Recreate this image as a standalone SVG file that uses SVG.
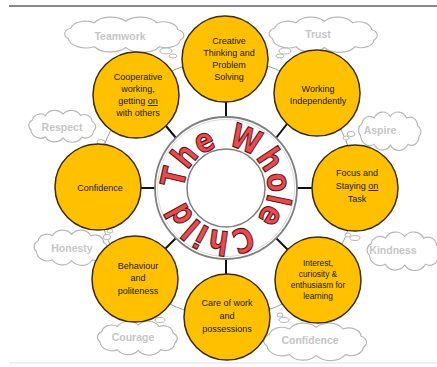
<svg xmlns="http://www.w3.org/2000/svg" xmlns:xlink="http://www.w3.org/1999/xlink" width="437" height="367" viewBox="0 0 437 367">
<style>
.cloud{fill:#fff;stroke:#b8b8b8;stroke-width:1.2}
.bub{fill:#fff;stroke:#b8b8b8;stroke-width:1}
.ct{font-family:"Liberation Sans",Arial,sans-serif;font-weight:bold;font-size:10.5px;fill:#c6c6c6;text-anchor:middle}
.node{fill:#FFC000;stroke:#3d2b00;stroke-width:1.5}
.nt{font-family:"Liberation Sans",Arial,sans-serif;font-size:9px;fill:#1a1a1a;text-anchor:middle}
.spoke{stroke:#111;stroke-width:2}
.title{font-family:"DejaVu Sans",sans-serif;font-weight:bold;font-size:33px;fill:#e84a50;stroke:#5a1212;stroke-width:1.1}
</style>
<defs>
<path id="cl" vector-effect="non-scaling-stroke" d="M8,26 A8.5,8.5 0 0 1 10,12 A11.6,11.6 0 0 1 28,5 A14.5,14.5 0 0 1 52,3 A14.5,14.5 0 0 1 76,5 A11,11 0 0 1 92,14 A8.5,8.5 0 0 1 94,28 A11,11 0 0 1 78,37 A15.6,15.6 0 0 1 52,38 A14.4,14.4 0 0 1 28,37 A13.7,13.7 0 0 1 8,26 Z"/>
<path id="tp" d="M184,189 A42,42 0 1 1 268,189 A42,42 0 1 1 184,189"/>
</defs>
<rect width="437" height="367" fill="#fff"/>
<line x1="9" y1="6" x2="437" y2="6" stroke="#111" stroke-width="1.2"/>
<line x1="9" y1="363" x2="437" y2="363" stroke="#e2e2e2" stroke-width="1"/>

<circle cx="226" cy="188" r="129" fill="none" stroke="#9c9c9c" stroke-width="1"/>

<g id="cloud-teamwork"><use xlink:href="#cl" class="cloud" transform="translate(58,19) scale(1.3,0.75)"/><ellipse class="bub" cx="166" cy="51" rx="6" ry="3"/><ellipse class="bub" cx="173" cy="56" rx="4" ry="2"/><text class="ct" x="120" y="40">Teamwork</text></g>
<g id="cloud-trust"><use xlink:href="#cl" class="cloud" transform="translate(263,19) scale(1.18,0.75)"/><ellipse class="bub" cx="285" cy="51" rx="6" ry="3"/><ellipse class="bub" cx="280" cy="56" rx="4" ry="2"/><text class="ct" x="318" y="38">Trust</text></g>
<g id="cloud-respect"><use xlink:href="#cl" class="cloud" transform="translate(25,112) scale(0.73,0.68)"/><ellipse class="bub" cx="101" cy="142" rx="4" ry="2.5"/><ellipse class="bub" cx="106" cy="147" rx="3" ry="2"/><text class="ct" x="62" y="131">Respect</text></g>
<g id="cloud-aspire"><use xlink:href="#cl" class="cloud" transform="translate(355,114) scale(0.68,0.82)"/><ellipse class="bub" cx="351" cy="134" rx="4" ry="2.5"/><ellipse class="bub" cx="346" cy="138" rx="3" ry="2"/><text class="ct" x="380" y="134">Aspire</text></g>
<g id="cloud-honesty"><use xlink:href="#cl" class="cloud" transform="translate(30,232) scale(0.8,0.75)"/><ellipse class="bub" cx="107" cy="237" rx="4" ry="2.5"/><ellipse class="bub" cx="110" cy="231" rx="3" ry="2"/><text class="ct" x="72" y="252">Honesty</text></g>
<g id="cloud-kindness"><use xlink:href="#cl" class="cloud" transform="translate(363,234) scale(0.8,0.82)"/><ellipse class="bub" cx="355" cy="238" rx="5" ry="2.5"/><ellipse class="bub" cx="348" cy="235" rx="3" ry="2"/><text class="ct" x="393" y="254">Kindness</text></g>
<g id="cloud-courage"><use xlink:href="#cl" class="cloud" transform="translate(93,323) scale(0.87,0.72)"/><ellipse class="bub" cx="160" cy="320" rx="5" ry="2.5"/><ellipse class="bub" cx="154" cy="316" rx="3" ry="2"/><text class="ct" x="133" y="341">Courage</text></g>
<g id="cloud-confidence"><use xlink:href="#cl" class="cloud" transform="translate(258,325) scale(1.12,0.8)"/><ellipse class="bub" cx="284" cy="320" rx="5" ry="2.5"/><ellipse class="bub" cx="280" cy="315" rx="3" ry="2"/><text class="ct" x="310" y="344">Confidence</text></g>

<g id="connectors">
<line class="spoke" x1="226" y1="117" x2="226" y2="102"/>
<line class="spoke" x1="226" y1="259" x2="226" y2="274"/>
<line class="spoke" x1="155" y1="188" x2="141" y2="188"/>
<line class="spoke" x1="297" y1="188" x2="312" y2="188"/>
<line class="spoke" x1="176" y1="138" x2="166" y2="126"/>
<line class="spoke" x1="276" y1="138" x2="287" y2="124"/>
<line class="spoke" x1="176" y1="238" x2="165" y2="249"/>
<line class="spoke" x1="276" y1="238" x2="288" y2="250"/>
</g>

<g id="node-creative"><circle class="node" cx="225" cy="59" r="43"/><text class="nt"><tspan x="229" y="44">Creative</tspan><tspan x="229" y="56">Thinking and</tspan><tspan x="229" y="68">Problem</tspan><tspan x="229" y="80">Solving</tspan></text></g>
<g id="node-working"><circle class="node" cx="317" cy="93" r="43"/><text class="nt"><tspan x="318" y="92">Working</tspan><tspan x="318" y="104">Independently</tspan></text></g>
<g id="node-focus"><circle class="node" cx="355" cy="188" r="43"/><text class="nt"><tspan x="357" y="176">Focus and</tspan><tspan x="357" y="189">Staying <tspan text-decoration="underline">on</tspan></tspan><tspan x="357" y="202">Task</tspan></text></g>
<g id="node-interest"><circle class="node" cx="318" cy="280" r="43"/><text class="nt" style="font-size:8.3px"><tspan x="318" y="266">Interest,</tspan><tspan x="318" y="277">curiosity &amp;</tspan><tspan x="318" y="288">enthusiasm for</tspan><tspan x="318" y="299">learning</tspan></text></g>
<g id="node-care"><circle class="node" cx="227" cy="317" r="43"/><text class="nt"><tspan x="227" y="306">Care of work</tspan><tspan x="227" y="319">and</tspan><tspan x="227" y="332">possessions</tspan></text></g>
<g id="node-behaviour"><circle class="node" cx="135" cy="279" r="43"/><text class="nt"><tspan x="138" y="269">Behaviour</tspan><tspan x="138" y="281">and</tspan><tspan x="138" y="294">politeness</tspan></text></g>
<g id="node-confidence"><circle class="node" cx="98" cy="187" r="43"/><text class="nt"><tspan x="100" y="191">Confidence</tspan></text></g>
<g id="node-cooperative"><circle class="node" cx="136" cy="95" r="43"/><text class="nt"><tspan x="138" y="80">Cooperative</tspan><tspan x="138" y="92">working,</tspan><tspan x="138" y="104">getting <tspan text-decoration="underline">on</tspan></tspan><tspan x="138" y="116">with others</tspan></text></g>

<g id="node-title">
<circle cx="226" cy="188" r="71" fill="#fff" stroke="#7f7f7f" stroke-width="1.8"/>
<circle cx="226" cy="188" r="68.5" fill="none" stroke="#cfcfcf" stroke-width="0.8"/>
<circle cx="226" cy="188" r="39" fill="#fff" stroke="#7f7f7f" stroke-width="1.5"/>
<text class="title"><textPath xlink:href="#tp" textLength="252" lengthAdjust="spacingAndGlyphs">The Whole Child</textPath></text>
</g>
</svg>
